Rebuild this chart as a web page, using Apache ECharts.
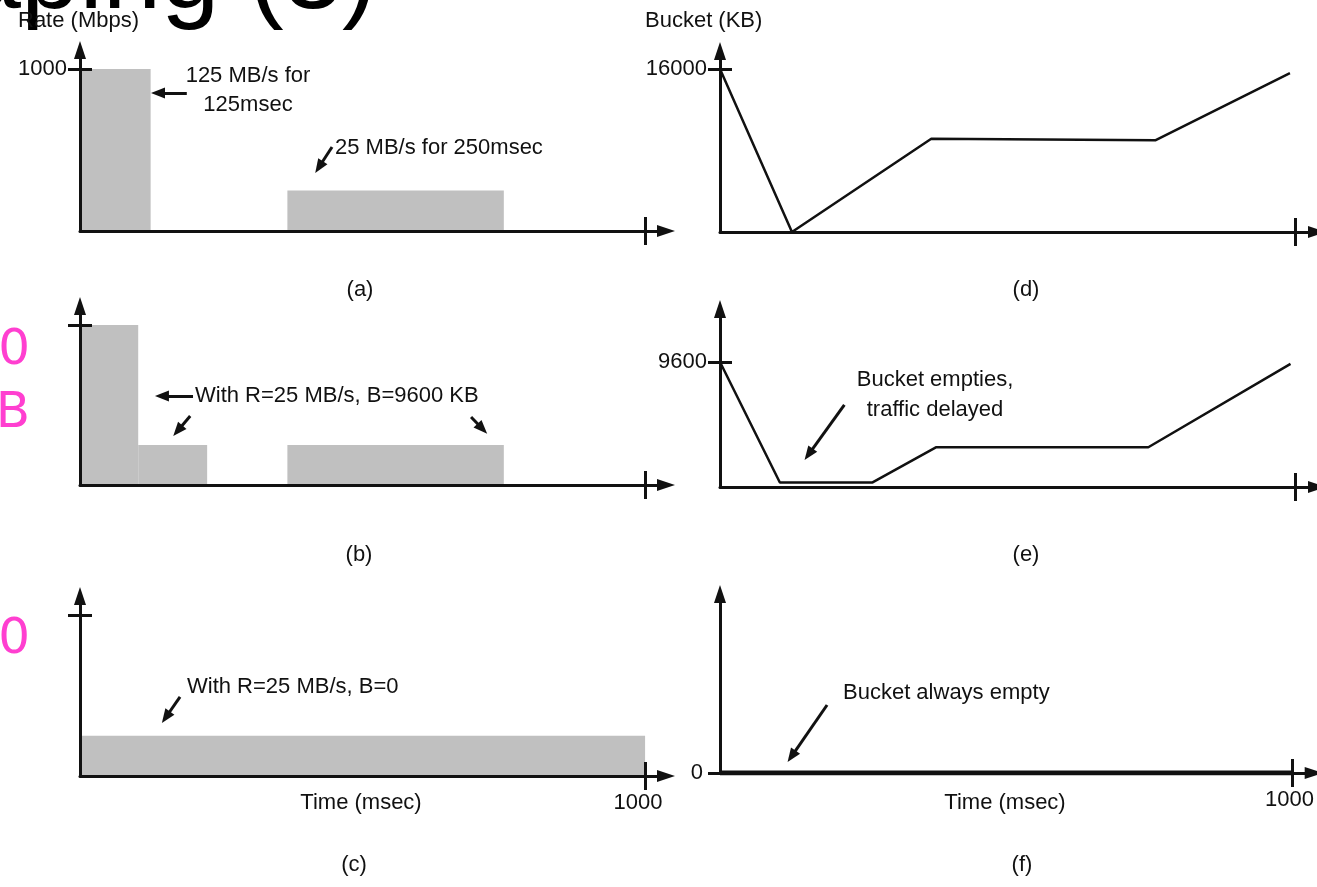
<!DOCTYPE html>
<html>
<head>
<meta charset="utf-8">
<title>Traffic Shaping (3)</title>
<script src="https://cdn.jsdelivr.net/npm/echarts@6/dist/echarts.min.js"></script>
<style>html,body{margin:0;background:#fff}#main{width:1317px;height:887px}</style>
</head>
<body>
<div id="main"></div>
<script>
// output rate, panels (a)(b)(c): [start ms, end ms, Mbps]
var rateA = [[0, 125, 1000], [367, 750, 250]];
var rateB = [[0, 103, 1000], [103, 225, 250], [367, 750, 250]];
var rateC = [[0, 1000, 250]];
// bucket level, panels (d)(e)(f): [ms, KB]
var bucketD = [[0, 16000], [125, 0], [367, 9150], [756, 9000], [990, 15600]];
var bucketE = [[0, 9600], [104, 350], [265, 350], [375, 3050], [744, 3050], [991, 9450]];
var bucketF = [[0, 0], [1000, 0]];
// tick values
var timeTicks = [1000];
var rateTicks = [1000];
var bucketTicksD = [16000];
var bucketTicksE = [9600];
var bucketTicksF = [0];
// annotation arrows, [from, to] in data units
var arrowsA = [[[189, 852], [138, 852]], [[446, 519], [423, 395]]];
var arrowsB = [[[200, 556], [145, 556]], [[195, 431], [173, 339]], [[692, 425], [712, 351]]];
var arrowsC = [[[177, 491], [152, 365]]];
var arrowsE = [[[216, 6298], [154, 2511]]];
var arrowsF = [[[187, 380], [125, 93]]];

var INK = '#111';
var FONT = 'Liberation Sans';
var chart = echarts.init(document.getElementById('main'));

var panels = [
  {left: 80, top: 50, width: 586, height: 181, yMax: 1118, yTicks: rateTicks, yLabel: true, xLabel: false, pad: 14},
  {left: 80, top: 306, width: 586, height: 179, yMax: 1118, yTicks: rateTicks, yLabel: false, xLabel: false, pad: 14},
  {left: 80, top: 596, width: 586, height: 180, yMax: 1118, yTicks: rateTicks, yLabel: false, xLabel: true, pad: 14},
  {left: 720, top: 51, width: 599, height: 181, yMax: 17770, yTicks: bucketTicksD, yLabel: true, xLabel: false, pad: 6},
  {left: 720, top: 309, width: 599, height: 178, yMax: 13670, yTicks: bucketTicksE, yLabel: true, xLabel: false, pad: 6},
  {left: 720, top: 594, width: 599, height: 179, yMax: 1000, yTicks: bucketTicksF, yLabel: true, xLabel: true, pad: 6, noCross: true}
];

function plain(v) { return String(v); }

var grids = [], xAxes = [], yAxes = [];
panels.forEach(function (p, i) {
  grids.push({left: p.left, top: p.top, width: p.width, height: p.height});
  var line = {show: true, lineStyle: {color: INK, width: 3}, symbol: ['none', 'triangle'], symbolSize: [12, 18]};
  xAxes.push({
    type: 'value', gridIndex: i, position: 'bottom', min: 0, max: 1037, z: 5,
    splitLine: {show: false}, axisLine: line,
    axisTick: {show: true, customValues: timeTicks, length: 14, lineStyle: {color: INK, width: 3}},
    axisLabel: {show: p.xLabel, customValues: timeTicks, formatter: plain, margin: 16, color: INK,
      fontSize: 22, fontFamily: FONT, padding: [0, p.pad, 0, 0]}
  });
  xAxes.push({
    type: 'value', gridIndex: i, position: 'bottom', min: 0, max: 1037, z: 5,
    splitLine: {show: false}, axisLine: {show: false}, axisLabel: {show: false},
    axisTick: {show: true, inside: true, customValues: timeTicks, length: 14, lineStyle: {color: INK, width: 3}}
  });
  yAxes.push({
    type: 'value', gridIndex: i, position: 'left', min: 0, max: p.yMax, z: 5,
    splitLine: {show: false}, axisLine: line,
    axisTick: {show: true, customValues: p.yTicks, length: 12, lineStyle: {color: INK, width: 3}},
    axisLabel: {show: p.yLabel, customValues: p.yTicks, formatter: plain, margin: p.noCross ? 17 : 13,
      color: INK, fontSize: 22, fontFamily: FONT}
  });
  yAxes.push({
    type: 'value', gridIndex: i, position: 'left', min: 0, max: p.yMax, z: 5,
    splitLine: {show: false}, axisLine: {show: false}, axisLabel: {show: false},
    axisTick: {show: !p.noCross, inside: true, customValues: p.yTicks, length: 12, lineStyle: {color: INK, width: 3}}
  });
});

function arrowLines(list) {
  return {
    silent: true, animation: false, symbol: ['none', 'triangle'], symbolSize: [11, 14],
    lineStyle: {color: INK, width: 3, type: 'solid'}, label: {show: false},
    data: list.map(function (a) { return [{coord: a[0]}, {coord: a[1]}]; })
  };
}

function renderBar(params, api) {
  var p0 = api.coord([api.value(0), api.value(2)]);
  var p1 = api.coord([api.value(1), 0]);
  return {type: 'rect', shape: {x: p0[0], y: p0[1], width: p1[0] - p0[0], height: p1[1] - p0[1]}, style: {fill: '#c0c0c0'}};
}

function barSeries(i, data, arrows) {
  return {type: 'custom', xAxisIndex: 2 * i, yAxisIndex: 2 * i, z: 2, silent: true,
    renderItem: renderBar, data: data, markLine: arrowLines(arrows)};
}
function lineSeries(i, data, width, arrows) {
  var s = {type: 'line', xAxisIndex: 2 * i, yAxisIndex: 2 * i, z: 2, silent: true, showSymbol: false,
    lineStyle: {color: INK, width: width}, data: data};
  if (arrows) s.markLine = arrowLines(arrows);
  return s;
}

function txt(str, x, y, opts) {
  opts = opts || {};
  return {type: 'text', x: x, y: y, silent: true, style: {
    text: str, fill: opts.fill || INK, fontSize: opts.size || 22, fontFamily: opts.family || FONT,
    align: opts.align || 'left', verticalAlign: 'middle', lineHeight: opts.lh || 29
  }};
}

var labels = [
  txt('Traffic Shaping (3)', 377, -21, {size: 105, align: 'right', lh: 105, fill: '#000'}),
  txt('0', 30, 351, {size: 50, align: 'right', family: 'DejaVu Sans', fill: '#ff3fd0', lh: 50}),
  txt('B', 30, 414, {size: 50, align: 'right', family: 'DejaVu Sans', fill: '#ff3fd0', lh: 50}),
  txt('0', 30, 640, {size: 50, align: 'right', family: 'DejaVu Sans', fill: '#ff3fd0', lh: 50}),
  txt('Rate (Mbps)', 18, 21),
  txt('Bucket (KB)', 645, 21),
  txt('125 MB/s for\n125msec', 248, 90, {align: 'center'}),
  txt('25 MB/s for 250msec', 335, 148),
  txt('With R=25 MB/s, B=9600 KB', 195, 396),
  txt('With R=25 MB/s, B=0', 187, 687),
  txt('Bucket empties,\ntraffic delayed', 935, 395, {align: 'center', lh: 30}),
  txt('Bucket always empty', 843, 693),
  txt('Time (msec)', 361, 803, {align: 'center'}),
  txt('Time (msec)', 1005, 803, {align: 'center'}),
  txt('(a)', 360, 290, {align: 'center'}),
  txt('(b)', 359, 555, {align: 'center'}),
  txt('(c)', 354, 865, {align: 'center'}),
  txt('(d)', 1026, 290, {align: 'center'}),
  txt('(e)', 1026, 555, {align: 'center'}),
  txt('(f)', 1022, 865, {align: 'center'})
];

chart.setOption({
  animation: false,
  backgroundColor: '#fff',
  grid: grids,
  xAxis: xAxes,
  yAxis: yAxes,
  graphic: labels,
  series: [
    barSeries(0, rateA, arrowsA),
    barSeries(1, rateB, arrowsB),
    barSeries(2, rateC, arrowsC),
    lineSeries(3, bucketD, 2.5),
    lineSeries(4, bucketE, 2.5, arrowsE),
    lineSeries(5, bucketF, 5, arrowsF)
  ]
});
</script>
</body>
</html>
